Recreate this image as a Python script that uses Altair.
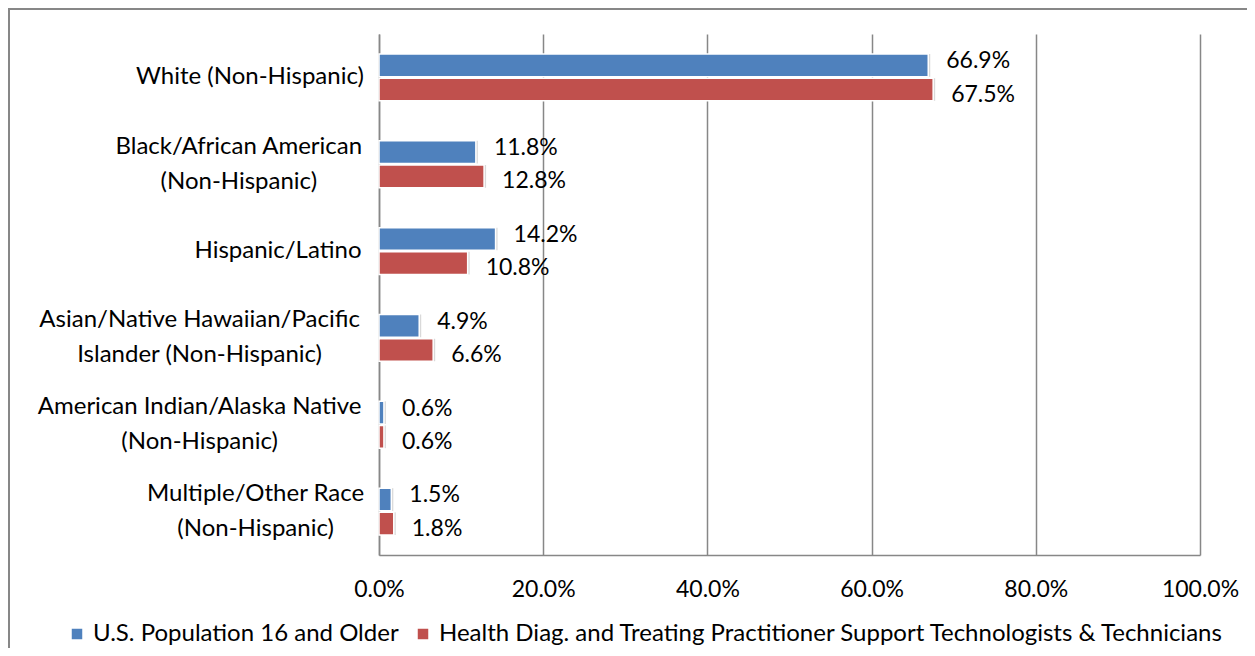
import altair as alt
import pandas as pd

categories = [
    "White (Non-Hispanic)",
    "Black/African American\n(Non-Hispanic)",
    "Hispanic/Latino",
    "Asian/Native Hawaiian/Pacific\nIslander (Non-Hispanic)",
    "American Indian/Alaska Native\n(Non-Hispanic)",
    "Multiple/Other Race\n(Non-Hispanic)",
]
series_names = [
    "U.S. Population 16 and Older",
    "Health Diag. and Treating Practitioner Support Technologists & Technicians",
]
us_population = [66.9, 11.8, 14.2, 4.9, 0.6, 1.5]
health_techs = [67.5, 12.8, 10.8, 6.6, 0.6, 1.8]
x_ticks = [0, 20, 40, 60, 80, 100]
colors = ["#4F81BD", "#C0504D"]

FONT = "Lato"
FS_CAT = 24
FS_LEG = 24
FS_NUM = 23
GRID = "#878787"

rows = []
for i, c in enumerate(categories):
    rows.append({"category": c, "series": series_names[0], "value": us_population[i]})
    rows.append({"category": c, "series": series_names[1], "value": health_techs[i]})
df = pd.DataFrame(rows)
cat_df = pd.DataFrame({"category": categories})

y_enc = alt.Y(
    "category:N",
    sort=categories,
    scale=alt.Scale(paddingInner=0.46, paddingOuter=0.23),
    axis=alt.Axis(labels=False, ticks=False, title=None, domain=True,
                  domainColor=GRID, domainWidth=1.5, grid=False),
)
yoff_enc = alt.YOffset("series:N", sort=series_names,
                       scale=alt.Scale(paddingInner=0.06, paddingOuter=0))
x_enc = alt.X(
    "value:Q",
    scale=alt.Scale(domain=[0, 100], nice=False),
    axis=alt.Axis(
        values=x_ticks, title=None, ticks=False, domain=True,
        domainColor=GRID, domainWidth=1.5,
        grid=True, gridColor=GRID, gridWidth=1.5,
        labelExpr="format(datum.value, '.1f') + '%'", labelFlush=False,
        labelPadding=23, labelFont=FONT, labelFontSize=FS_NUM, labelColor="#000000",
    ),
)

base = alt.Chart(df)

shadow = base.mark_bar(color="#000000", opacity=0.15, xOffset=2, yOffset=3).encode(
    x=x_enc, y=y_enc, yOffset=yoff_enc
)

bars = base.mark_bar(stroke="#FFFFFF", strokeWidth=1.5).encode(
    x=x_enc,
    y=y_enc,
    yOffset=yoff_enc,
    color=alt.Color(
        "series:N",
        sort=series_names,
        scale=alt.Scale(domain=series_names, range=colors),
        legend=alt.Legend(
            title=None, orient="none", direction="horizontal",
            legendX=-314, legendY=588, symbolType="square", symbolSize=110,
            symbolStrokeWidth=0, labelFont=FONT, labelFontSize=FS_LEG,
            labelColor="#000000", labelLimit=0, columnPadding=12, symbolOffset=0,
        ),
    ),
)


def value_labels(series, dy):
    return base.transform_filter(
        alt.datum.series == series
    ).transform_calculate(
        label="format(datum.value, '.1f') + '%'"
    ).mark_text(align="left", baseline="middle", dx=18, dy=dy, font=FONT,
                fontSize=FS_NUM, color="#000000").encode(
        x=alt.X("value:Q"), y=alt.Y("category:N", sort=categories),
        yOffset=alt.YOffset("series:N", sort=series_names), text="label:N"
    )


lab_blue = value_labels(series_names[0], -4)
lab_red = value_labels(series_names[1], 5)

plot = alt.layer(shadow, bars, lab_blue, lab_red)

LINE_H = 35


def cat_labels(multi):
    test = "indexof(datum.category, '\\n') >= 0"
    cond = test if multi else "!(" + test + ")"
    return alt.Chart(cat_df).transform_filter(cond).transform_calculate(
        w="max(length(split(datum.category, '\\n')[0]), length(peek(split(datum.category, '\\n')))) * 11.2",
        cx="-17 - datum.w / 2",
    ).mark_text(align="center", baseline="middle", lineBreak="\n", lineHeight=LINE_H,
                dy=-LINE_H / 2 if multi else 0,
                font=FONT, fontSize=FS_CAT, color="#000000").encode(
        x=alt.X("cx:Q", scale=None, axis=None),
        y=alt.Y("category:N", sort=categories),
        text="category:N",
    )


frame = alt.Chart(pd.DataFrame({"k": [0]})).mark_rect(
    fillOpacity=0, stroke=GRID, strokeWidth=2
).encode(
    x=alt.value(-370), x2=alt.value(1000), y=alt.value(-25), y2=alt.value(800)
)

chart = alt.layer(frame, plot, cat_labels(False), cat_labels(True)).resolve_scale(
    x="independent"
).properties(
    width=821,
    height=521,
    autosize=alt.AutoSizeParams(type="none"),
    padding={"left": 371, "top": 26, "right": 47, "bottom": 93},
).configure_view(stroke=None)

chart.save("out.html", embed_options={"renderer": "svg", "actions": False})
